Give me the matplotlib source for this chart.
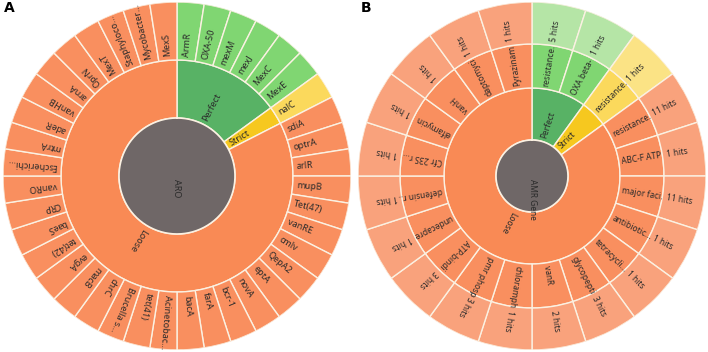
import numpy as np
import matplotlib
matplotlib.use('Agg')
import matplotlib.pyplot as plt

plt.rcParams['font.family'] = ['Noto Sans', 'DejaVu Sans']

# panel A: ARO -> level -> gene
a_root = 'ARO'
a_levels = ['Perfect', 'Strict', 'Loose']
a_perfect = ['ArmR', 'OXA-50', 'mexM', 'mexJ', 'MexC', 'MexE']
a_strict = ['nalC']
a_loose = ['sdiA', 'optrA', 'arlR', 'mupB', 'Tet(47)', 'vanRE', 'cmlv', 'QepA2',
           'eptA', 'novA', 'bcr-1', 'farA', 'bacA', 'Acinetobac...', 'tet(41)',
           'Brucella s...', 'chrC', 'macB', 'evgA', 'tet(42)', 'baeS', 'CRP',
           'vanRO', 'Escherichi...', 'mtrA', 'adeR', 'vanHB', 'arnA', 'OprN',
           'MexT', 'Staphyloco...', 'Mycobacter...', 'MexS']

# panel B: AMR Gene family -> level -> family -> hits
b_root = 'AMR Gene'
b_perfect_fam = ['resistance.', 'OXA beta-']
b_perfect_hits = [5, 1]
b_strict_fam = ['resistance.']
b_strict_hits = [1]
b_loose_fam = ['resistance.', 'ABC-F ATP', 'major faci.', 'antibiotic...',
               'tetracycli...', 'glycopepti', 'vanR', 'chloramph', 'pmr phosp',
               'ATP-bindi', 'undecapre', 'defensin r..', 'Cfr 23S r...',
               'elfamycin', 'vanH', 'daptomyci', 'Pyrazinam']
b_loose_hits = [11, 1, 11, 1, 1, 3, 2, 1, 3, 3, 1, 1, 1, 1, 1, 1, 1]

grey = '#6f6767'
edge = '#fbf1e2'
txt = '#2b2b2b'
# colours per level, from inner ring to outer ring
pal = {
    'Perfect': ['#58b265', '#80d672', '#b5e5a6'],
    'Strict': ['#f6c81f', '#fbd95c', '#fbe385'],
    'Loose': ['#f98a55', '#f98f5f', '#f9a27c'],
}


def wedge(ax, start, n, r0, r1, color, label, total, fs, pad=4):
    w = 2 * np.pi * n / total
    th = 2 * np.pi * start / total
    ax.bar(th, r1 - r0, width=w, bottom=r0, align='edge', color=color,
           edgecolor=edge, linewidth=1.0)
    mid = np.degrees(th + w / 2)
    ax.text(np.radians(mid), r0 + pad, label, rotation=90 - mid,
            rotation_mode='anchor', ha='left', va='center', fontsize=fs,
            color=txt)


def centre(ax, r, label, fs):
    # full disc without the radial seam a 360 degree bar would get
    ax.bar(0, r, width=2 * np.pi, bottom=0, color=grey, linewidth=0)
    t = np.linspace(0, 2 * np.pi, 361)
    ax.plot(t, np.full_like(t, r), color=edge, lw=1.2)
    ax.text(np.pi, 3, label, rotation=-90, rotation_mode='anchor',
            ha='left', va='center', fontsize=fs, color=txt)


def setup(ax, rmax):
    ax.set_theta_zero_location('N')
    ax.set_theta_direction(-1)
    ax.set_ylim(0, rmax)
    ax.axis('off')


fig = plt.figure(figsize=(7.08, 3.52), dpi=100)

# ---- A ----
fa = 6.5
axA = fig.add_axes([3 / 708, 2 / 352, 348 / 708, 348 / 352], projection='polar')
setup(axA, 174)
ra = [0, 58, 116, 174]
totA = len(a_perfect) + len(a_strict) + len(a_loose)
pos = 0
for lvl, genes in zip(a_levels, [a_perfect, a_strict, a_loose]):
    wedge(axA, pos, len(genes), ra[1], ra[2], pal[lvl][0], lvl, totA, fa)
    for i, g in enumerate(genes):
        wedge(axA, pos + i, 1, ra[2], ra[3], pal[lvl][1], g, totA, fa)
    pos += len(genes)
centre(axA, ra[1], a_root, fa)

# ---- B ----
fb = 6
axB = fig.add_axes([358 / 708, 2 / 352, 348 / 708, 348 / 352], projection='polar')
setup(axB, 174)
rb = [0, 36, 88, 132, 174]
fams = [b_perfect_fam, b_strict_fam, b_loose_fam]
hits = [b_perfect_hits, b_strict_hits, b_loose_hits]
totB = sum(len(f) for f in fams)
pos = 0
for lvl, fam, hh in zip(a_levels, fams, hits):
    wedge(axB, pos, len(fam), rb[1], rb[2], pal[lvl][0], lvl, totB, fb)
    for i, (f, h) in enumerate(zip(fam, hh)):
        wedge(axB, pos + i, 1, rb[2], rb[3], pal[lvl][1], f, totB, fb, pad=3)
        wedge(axB, pos + i, 1, rb[3], rb[4], pal[lvl][2], f'{h} hits', totB, fb)
    pos += len(fam)
centre(axB, rb[1], b_root, fb)

fig.text(4 / 708, 1 - 12 / 352, 'A', fontsize=10, fontweight='bold', family='DejaVu Sans')
fig.text(361 / 708, 1 - 12 / 352, 'B', fontsize=10, fontweight='bold', family='DejaVu Sans')

fig.savefig('out.png', dpi=100)
